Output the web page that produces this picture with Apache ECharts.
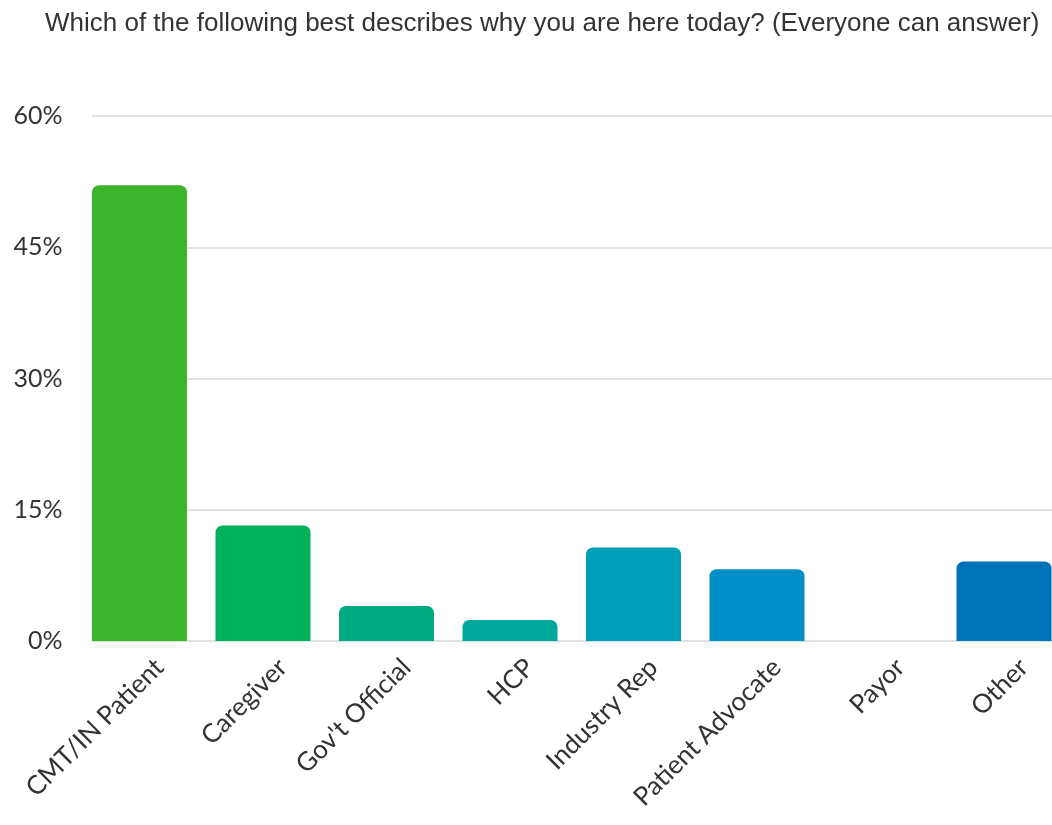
<!DOCTYPE html>
<html>
<head>
<meta charset="utf-8">
<script src="https://cdn.jsdelivr.net/npm/echarts@6/dist/echarts.min.js"></script>
<style>html,body{margin:0;padding:0;background:#fff;}#c{width:1052px;height:825px;}</style>
</head>
<body>
<div id="c"></div>
<script>
const titleText = "Which of the following best describes why you are here today? (Everyone can answer)";
const categories = ["CMT/IN Patient", "Caregiver", "Gov't Official", "HCP", "Industry Rep", "Patient Advocate", "Payor", "Other"];
const values = [52.1, 13.2, 4.0, 2.4, 10.7, 8.2, 0, 9.1];
const barColors = ["#3BB62C", "#00B05A", "#00AA80", "#00A89B", "#009EB9", "#008EC8", "#0080C0", "#0072B8"];
const yTicks = [0, 15, 30, 45, 60];

const chart = echarts.init(document.getElementById('c'), null, {renderer: 'canvas'});
const labelFont = 'Lato, "Noto Sans", sans-serif';
chart.setOption({
  backgroundColor: '#fff',
  animation: false,
  title: {
    text: titleText,
    left: 40, top: 6,
    textStyle: {fontFamily: '"Liberation Sans", Arial, sans-serif', fontSize: 26, fontWeight: 'normal', color: '#333'}
  },
  grid: [
    {left: 139.5, right: 48, top: 116, height: 525, containLabel: false},
    {left: 92, right: 0, top: 116, height: 525, containLabel: false}
  ],
  xAxis: [
    {
      type: 'category', gridIndex: 0, data: categories, boundaryGap: false,
      axisLine: {show: false}, axisTick: {show: false},
      axisLabel: {rotate: 45, interval: 0, margin: 42, padding: [0, -28, 0, 0],
                  fontFamily: labelFont, fontSize: 26, color: '#333'}
    },
    {type: 'value', gridIndex: 1, min: 0, max: 1, show: false}
  ],
  yAxis: [
    {
      type: 'value', gridIndex: 0, min: yTicks[0], max: yTicks[yTicks.length - 1], interval: 15,
      splitLine: {show: false}, axisLine: {show: false}, axisTick: {show: false},
      axisLabel: {formatter: '{value}%', margin: 77, fontFamily: labelFont, fontSize: 25, color: '#333'}
    },
    {
      type: 'value', gridIndex: 1, min: yTicks[0], max: yTicks[yTicks.length - 1], interval: 15,
      axisLabel: {show: false}, axisLine: {show: false}, axisTick: {show: false},
      splitLine: {show: true, lineStyle: {color: '#e0e0e0', width: 2}}
    }
  ],
  series: [{
    type: 'bar', xAxisIndex: 0, yAxisIndex: 0,
    barWidth: 95, clip: false,
    data: values.map((v, i) => ({value: v, itemStyle: {color: barColors[i], borderRadius: [7, 7, 0, 0]}})),
    z: 3
  }]
});
</script>
</body>
</html>
